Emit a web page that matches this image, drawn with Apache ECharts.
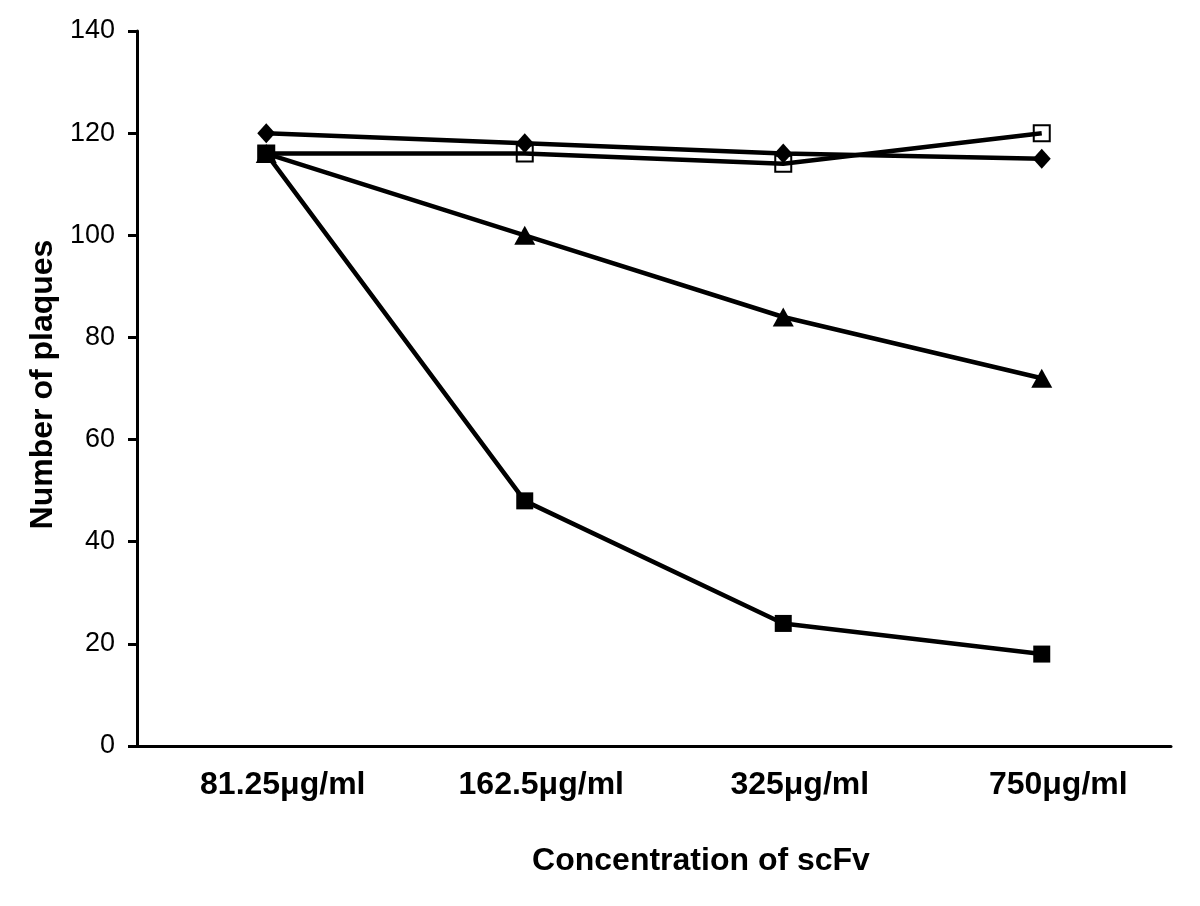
<!DOCTYPE html>
<html>
<head>
<meta charset="utf-8">
<script src="https://cdn.jsdelivr.net/npm/echarts@6/dist/echarts.min.js"></script>
<style>html,body{margin:0;padding:0;background:#fff}#c{width:1200px;height:906px}</style>
</head>
<body>
<div id="c"></div>
<script>
const categories = ['81.25\u03bcg/ml', '162.5\u03bcg/ml', '325\u03bcg/ml', '750\u03bcg/ml'];
const diamondSeries = [120, 118, 116, 115];
const openSquareSeries = [116, 116, 114, 120];
const triangleSeries = [116, 100, 84, 72];
const filledSquareSeries = [116, 48, 24, 18];
const yTicks = { min: 0, max: 140, interval: 20 };

const chart = echarts.init(document.getElementById('c'), null, { renderer: 'canvas' });
const base = {
  type: 'line',
  lineStyle: { color: '#000', width: 4.5 },
  itemStyle: { color: '#000' },
  animation: false,
  z: 2
};
chart.setOption({
  backgroundColor: '#fff',
  animation: false,
  grid: { left: 137, right: 29, top: 31, bottom: 160, containLabel: false },
  xAxis: {
    type: 'category',
    data: categories,
    boundaryGap: true,
    axisLine: { lineStyle: { color: '#000', width: 3 } },
    axisTick: { show: false },
    axisLabel: { color: '#000', fontFamily: 'Liberation Sans', fontWeight: 'bold', fontSize: 32, margin: 23, padding: [0, 0, 0, 33] },
    name: 'Concentration of scFv',
    nameLocation: 'middle',
    nameGap: 99,
    nameTextStyle: { color: '#000', fontFamily: 'Liberation Sans', fontWeight: 'bold', fontSize: 32, padding: [0, 0, 0, 94] }
  },
  yAxis: {
    type: 'value',
    min: yTicks.min, max: yTicks.max, interval: yTicks.interval,
    splitLine: { show: false },
    axisLine: { show: true, lineStyle: { color: '#000', width: 3 } },
    axisTick: { show: true, length: 9, lineStyle: { color: '#000', width: 3 } },
    axisLabel: { color: '#000', fontFamily: 'Liberation Sans', fontSize: 27, margin: 22 },
    name: 'Number of plaques',
    nameLocation: 'middle',
    nameGap: 78,
    nameTextStyle: { color: '#000', fontFamily: 'Liberation Sans', fontWeight: 'bold', fontSize: 32, padding: [0, 0, 0, 8] }
  },
  series: [
    Object.assign({}, base, { name: 'filled square', data: filledSquareSeries, symbol: 'rect', symbolSize: 17 }),
    Object.assign({}, base, { name: 'triangle', data: triangleSeries, symbol: 'triangle', symbolSize: [21, 19] }),
    Object.assign({}, base, { name: 'open square', data: openSquareSeries, symbol: 'rect', symbolSize: 16,
      itemStyle: { color: 'rgba(255,255,255,0)', borderColor: '#000', borderWidth: 2 } }),
    Object.assign({}, base, { name: 'diamond', data: diamondSeries, symbol: 'diamond', symbolSize: [18, 20] })
  ]
});
</script>
</body>
</html>
